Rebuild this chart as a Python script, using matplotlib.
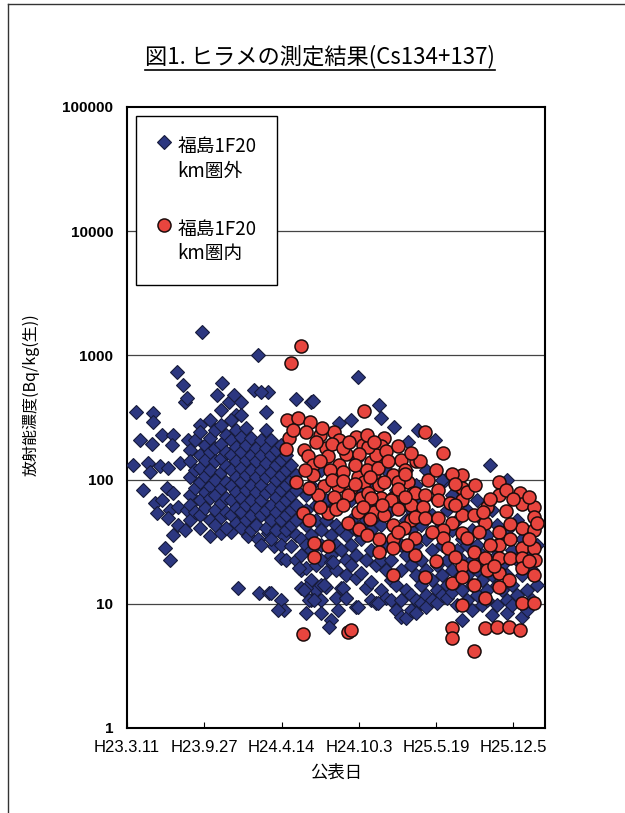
import numpy as np
import matplotlib
matplotlib.use("Agg")
import matplotlib.pyplot as plt
from matplotlib.lines import Line2D

plt.rcParams['font.family'] = ['Noto Sans CJK JP', 'DejaVu Sans']

# days after H23.3.11 (2011-03-11), Bq/kg
# 福島1F20km圏外
blue_pts = [
    # early spread
    (16, 131), (23, 350), (34, 208), (68, 345), (68, 290), (91, 229), (120, 229),
    (65, 195), (117, 190), (159, 208), (190, 275), (281, 331), (263, 420), (151, 420),
    (359, 350), (55, 137), (60, 115), (86, 128), (107, 125), (138, 137), (42, 82),
    (104, 86), (120, 78), (73, 65), (91, 69), (112, 57), (133, 60), (156, 57), (78, 54),
    (107, 49), (133, 43), (151, 39), (120, 36), (99, 28), (112, 22.5), (216, 35),
    (242, 37), (268, 38), (286, 44), (312, 35), (338, 33), (364, 37), (380, 29),
    (406, 35), (398, 23.5), (286, 13.4), (341, 12.2), (367, 12.2), (398, 10.7),
    # high values
    (195, 1550), (338, 1000), (130, 730), (146, 578), (247, 600), (276, 480), (294, 420),
    (328, 526), (364, 510), (346, 510), (437, 445), (476, 420), (156, 455), (234, 480),
    (598, 670), (481, 430), (653, 399), (692, 265), (754, 251), (549, 285), (728, 200),
    (796, 208), (822, 100), (939, 131), (658, 315), (580, 302),
    # dense cluster H23.9 - H24.5
    (164, 173), (164, 140), (164, 104), (164, 75), (164, 62), (164, 47),
    (177, 208), (177, 119), (177, 86), (177, 55),
    (190, 240), (190, 158), (190, 125), (190, 96), (190, 69), (190, 52), (190, 41),
    (203, 190), (203, 144), (203, 107), (203, 79), (203, 59),
    (216, 302), (216, 215), (216, 167), (216, 119), (216, 89), (216, 71), (216, 47),
    (229, 251), (229, 180), (229, 140), (229, 100), (229, 75), (229, 57), (229, 43),
    (242, 363), (242, 275), (242, 195), (242, 150), (242, 115), (242, 86), (242, 65), (242, 50),
    (255, 229), (255, 167), (255, 128), (255, 96), (255, 71), (255, 55), (255, 41),
    (268, 302), (268, 208), (268, 158), (268, 119), (268, 89), (268, 69), (268, 52),
    (281, 251), (281, 183), (281, 140), (281, 104), (281, 79), (281, 59), (281, 45),
    (294, 331), (294, 220), (294, 167), (294, 125), (294, 95), (294, 71), (294, 55), (294, 41),
    (307, 260), (307, 190), (307, 144), (307, 109), (307, 82), (307, 62), (307, 47),
    (320, 215), (320, 158), (320, 119), (320, 90), (320, 69), (320, 52), (320, 39),
    (333, 180), (333, 140), (333, 104), (333, 79), (333, 59), (333, 43),
    (346, 208), (346, 158), (346, 119), (346, 90), (346, 69), (346, 52), (346, 30),
    (359, 251), (359, 180), (359, 137), (359, 104), (359, 78), (359, 57), (359, 41),
    (372, 208), (372, 158), (372, 115), (372, 86), (372, 62), (372, 47), (372, 33),
    (385, 173), (385, 131), (385, 100), (385, 72), (385, 55), (385, 39),
    (398, 190), (398, 144), (398, 109), (398, 82), (398, 62), (398, 47), (398, 30),
    (411, 158), (411, 119), (411, 90), (411, 69), (411, 52), (411, 39), (411, 22.5),
    (424, 131), (424, 100), (424, 75), (424, 57), (424, 43), (424, 29),
    (437, 109), (437, 82), (437, 62), (437, 47), (437, 36), (437, 22.5),
    # H24.6 - H26.2, mostly under the red points
    (450, 33), (450, 24.7), (450, 18.7), (450, 13.4),
    (463, 75), (463, 57), (463, 43), (463, 30), (463, 19.5), (463, 8.4),
    (476, 90), (476, 36), (476, 27), (476, 15.5), (476, 10.7),
    (489, 62), (489, 47), (489, 20.5), (489, 12.9),
    (502, 119), (502, 39), (502, 30), (502, 22.5), (502, 14.2), (502, 10.7),
    (515, 69), (515, 47), (515, 18), (515, 13.6),
    (528, 100), (528, 57), (528, 36), (528, 24.7), (528, 21.7), (528, 7.4),
    (541, 43), (541, 30), (541, 18.7), (541, 11.1),
    (554, 119), (554, 62), (554, 39), (554, 27), (554, 13.4),
    (567, 90), (567, 36), (567, 22.5), (567, 17.1), (567, 11.1),
    (580, 69), (580, 47), (580, 30), (580, 20.5),
    (593, 144), (593, 39), (593, 24.7), (593, 16.2), (593, 9.4),
    (606, 82), (606, 43), (606, 33), (606, 17.7),
    (619, 62), (619, 47), (619, 22.5), (619, 13.4),
    (632, 100), (632, 39), (632, 27), (632, 15), (632, 10.7),
    (645, 69), (645, 52), (645, 20.5), (645, 10.1),
    (658, 43), (658, 22.5), (658, 12.9),
    (671, 119), (671, 30), (671, 18.7), (671, 11.1),
    (684, 57), (684, 22.5), (684, 15.5), (684, 10.7),
    (697, 82), (697, 39), (697, 14.2), (697, 8.9),
    (710, 69), (710, 30), (710, 18.7), (710, 10.7), (710, 7.8),
    (723, 119), (723, 47), (723, 24.7), (723, 12.9), (723, 7.7),
    (736, 57), (736, 39), (736, 20.5), (736, 11.8), (736, 8.9),
    (749, 90), (749, 30), (749, 17.1), (749, 10.7), (749, 8.4),
    (762, 69), (762, 43), (762, 22.5), (762, 14.2), (762, 10.1),
    (775, 119), (775, 33), (775, 18.7), (775, 11.8), (775, 9.4),
    (788, 52), (788, 27), (788, 15.5), (788, 10.7),
    (801, 69), (801, 39), (801, 20.5), (801, 12.9), (801, 10.1),
    (814, 100), (814, 30), (814, 17.1), (814, 11.8),
    (827, 57), (827, 22.5), (827, 14.2), (827, 11.1),
    (840, 75), (840, 39), (840, 18.7), (840, 12.5),
    (853, 47), (853, 27), (853, 15.5), (853, 9.8),
    (866, 82), (866, 33), (866, 22.5), (866, 12.9), (866, 7.4),
    (879, 57), (879, 30), (879, 17.1), (879, 10.7),
    (892, 39), (892, 22.5), (892, 14.2), (892, 8.9),
    (905, 69), (905, 30), (905, 18.7), (905, 11.8),
    (918, 47), (918, 24.7), (918, 15.5), (918, 9.8),
    (931, 36), (931, 20.5), (931, 12.9), (931, 10.7),
    (944, 57), (944, 30), (944, 17.1), (944, 8.1),
    (957, 43), (957, 24.7), (957, 14.2), (957, 9.8),
    (970, 33), (970, 20.5), (970, 12.9),
    (983, 100), (983, 39), (983, 17.1), (983, 10.7), (983, 8.4),
    (996, 27), (996, 14.2), (996, 9.8),
    (1009, 47), (1009, 22.5), (1009, 11.8),
    (1022, 33), (1022, 17.1), (1022, 7.8),
    (1035, 24.7), (1035, 12.9), (1035, 8.9),
    (1048, 39), (1048, 18.7), (1048, 10.7),
    (1061, 30), (1061, 14.2),
    # low values
    (463, 13.4), (510, 14.2), (471, 10.7), (502, 8.4), (406, 8.9), (390, 8.9),
    (372, 12.2), (458, 12.9), (484, 10.7), (546, 8.9), (523, 6.5), (598, 9.4),
    (650, 10.1), (559, 13.4), (567, 11.1), (445, 19.5), (533, 21.7),
]

# 福島1F20km圏内
red_pts = [
    (450, 1200), (424, 870), (614, 355), (413, 300), (442, 315), (473, 290), (419, 215),
    (499, 230), (536, 240), (549, 208), (593, 220), (666, 215), (411, 175), (458, 173),
    (468, 155), (515, 178), (520, 155), (567, 160), (611, 190), (658, 185), (653, 155),
    (710, 144), (749, 140), (481, 131), (549, 131), (632, 138), (481, 109), (598, 105),
    (640, 113), (689, 109), (437, 96), (510, 88), (546, 88), (580, 86), (614, 95),
    (653, 90), (728, 95), (494, 75), (536, 72), (572, 75), (606, 71), (624, 78),
    (658, 71), (689, 71), (741, 78), (598, 55), (640, 55), (455, 54), (471, 47),
    (520, 54), (572, 45), (666, 52), (689, 43), (736, 47), (484, 31), (520, 29),
    (484, 24), (653, 33), (689, 33), (653, 26), (689, 28), (744, 34), (744, 24.7),
    (689, 17), (455, 5.7), (572, 5.9), (580, 6.2), (645, 158), (757, 142), (819, 163),
    (866, 109), (962, 95), (962, 75), (1017, 78), (632, 71), (684, 69), (744, 78),
    (770, 75), (806, 82), (806, 69), (835, 65), (866, 85), (866, 69), (736, 62),
    (767, 60), (744, 50), (770, 49), (806, 49), (840, 45), (866, 52), (897, 52),
    (931, 60), (926, 45), (1022, 64), (1053, 60), (1053, 50), (1022, 41), (1053, 39),
    (718, 41), (819, 39), (866, 37), (962, 38), (819, 34), (962, 30), (991, 33),
    (1022, 28), (1053, 28), (897, 26), (926, 23.5), (962, 23.5), (991, 23.5),
    (1022, 23.5), (866, 20), (897, 20), (931, 18.7), (962, 17.7), (988, 15.5),
    (1022, 19.5), (1053, 17), (770, 16.3), (840, 14.8), (866, 16.5), (897, 14.2),
    (962, 13.6), (926, 11.1), (866, 9.8), (1022, 10.2), (1053, 10.2), (840, 6.4),
    (926, 6.4), (957, 6.5), (988, 6.5), (1017, 6.2), (840, 5.3), (897, 4.2),
    (1056, 22.5), (770, 240), (624, 183),
    # denser part H24.6 - H25.3
    (430, 250), (462, 240), (490, 200), (505, 260), (530, 195), (560, 180), (575, 200),
    (600, 160), (620, 230), (640, 200), (670, 170), (700, 185), (720, 120), (735, 165),
    (460, 120), (500, 140), (525, 120), (560, 115), (590, 130), (620, 120), (650, 125),
    (675, 140), (700, 95), (720, 110), (470, 85), (530, 100), (560, 98), (590, 92),
    (630, 105), (665, 95), (700, 84), (500, 60), (540, 58), (560, 62), (610, 60),
    (630, 48), (660, 62), (700, 58), (720, 72), (600, 40), (620, 36), (700, 38), (725, 30),
    # H25.4 - H26.2
    (780, 100), (800, 120), (840, 110), (850, 92), (880, 80), (900, 90), (940, 70),
    (980, 82), (1000, 70), (1040, 72), (790, 38), (830, 28), (850, 24), (880, 34),
    (910, 38), (940, 30), (990, 44), (1040, 33), (1060, 45), (850, 62), (920, 55),
    (980, 56), (1040, 22), (800, 22), (950, 20),
]

tick_days = [0, 200, 400, 600, 800, 1000]
tick_names = ["H23.3.11", "H23.9.27", "H24.4.14", "H24.10.3", "H25.5.19", "H25.12.5"]
y_ticks = [1, 10, 100, 1000, 10000, 100000]

label_out = "福島1F20\nkm圏外"
label_in = "福島1F20\nkm圏内"

fig = plt.figure(figsize=(6.25, 8.13), dpi=100)
ax = fig.add_axes([0.2032, 0.1046, 0.669, 0.7638])

bx, by = zip(*blue_pts)
rx, ry = zip(*red_pts)
ax.plot(bx, by, ls="none", marker="D", ms=7.0, mfc="#2c3780", mec="#161a3a",
        mew=0.8, label=label_out, zorder=3)
ax.plot(rx, ry, ls="none", marker="o", ms=9.4, mfc="#e8453e", mec="#1c0c0c",
        mew=1.1, label=label_in, zorder=4)

ax.set_yscale("log")
ax.set_ylim(1, 100000)
ax.set_xlim(0, 1082)
ax.set_yticks(y_ticks)
ax.set_yticklabels([str(v) for v in y_ticks])
ax.yaxis.set_minor_locator(matplotlib.ticker.NullLocator())
ax.set_xticks(tick_days)
ax.set_xticklabels(tick_names)
ax.tick_params(axis="x", direction="in", length=4, width=0.8, pad=9)
ax.tick_params(axis="y", length=0, pad=10)
for t in ax.get_xticklabels():
    t.set_fontfamily("Liberation Sans")
    t.set_fontsize(12)
for t in ax.get_yticklabels():
    t.set_fontfamily("Liberation Sans")
    t.set_fontsize(11)
    t.set_fontweight("bold")

for v in y_ticks[1:-1]:
    ax.axhline(v, color="#444444", lw=0.9, zorder=1)
for s in ax.spines.values():
    s.set_linewidth(1.5)
    s.set_color("black")

ax.set_xlabel("公表日", fontsize=12.5, labelpad=6)
ax.set_ylabel("放射能濃度(Bq/kg(生))", fontsize=11.5)
ax.yaxis.set_label_coords(-0.208, 0.536)

leg = ax.legend(loc="upper left", bbox_to_anchor=(0.022, 0.986), fancybox=False,
                edgecolor="black", framealpha=1, fontsize=13.5, borderpad=1.1,
                labelspacing=2.0, handlelength=0.8, handletextpad=0.3,
                borderaxespad=0)
leg.get_frame().set_linewidth(1.0)
# put the legend markers beside the first text line, as in the original
for h in leg.legend_handles:
    h.set_ydata([y + 13 for y in h.get_ydata()])

title = fig.text(0.512, 0.93, "図1. ヒラメの測定結果(Cs134+137)", ha="center",
                 va="center", fontsize=16)

# underline the title
fig.canvas.draw()
bb = title.get_window_extent().transformed(fig.transFigure.inverted())
fig.add_artist(Line2D([bb.x0, bb.x1], [bb.y0 - 0.002, bb.y0 - 0.002], color="black", lw=1.2))

# page frame of the scanned sheet
fig.add_artist(Line2D([0.013, 0.013], [0, 0.995], color="#333333", lw=1.0))
fig.add_artist(Line2D([0.013, 1.0], [0.995, 0.995], color="#333333", lw=1.0))

fig.savefig("out.png", dpi=100)
